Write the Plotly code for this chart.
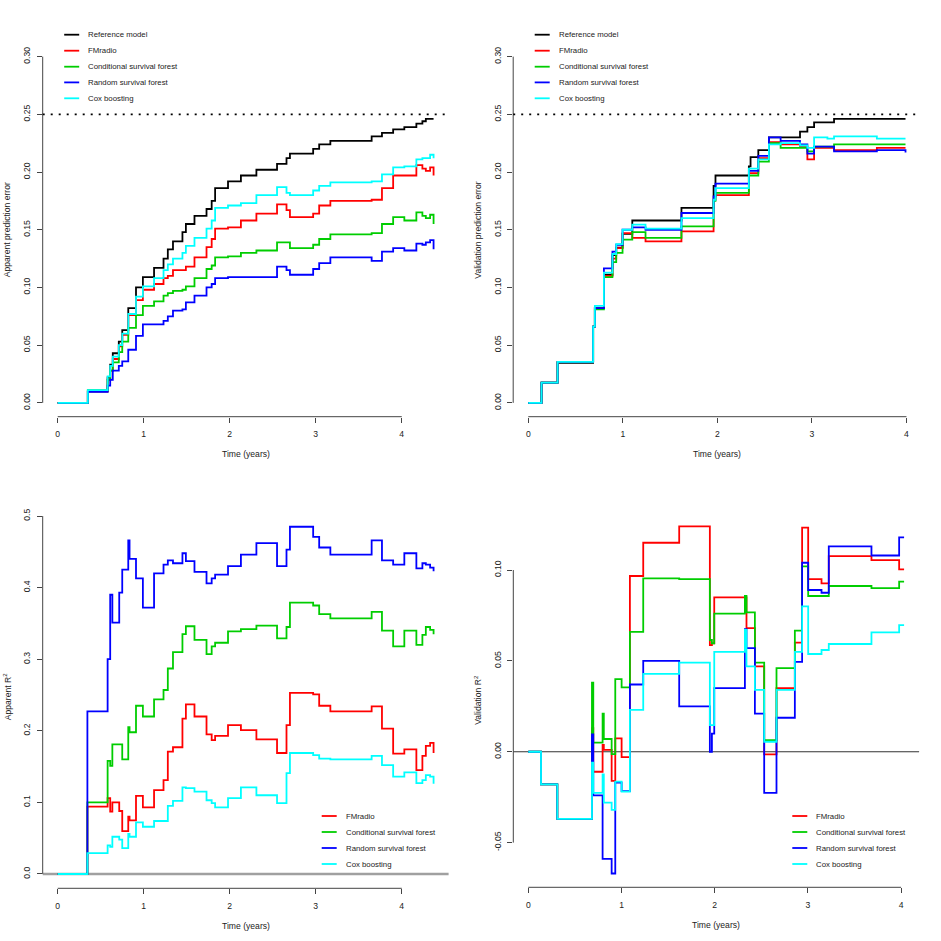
import plotly.graph_objects as go

W = H = 941
FONT = "Liberation Sans, Arial, Helvetica, sans-serif"

model_names = ["Reference model", "FMradio", "Conditional survival forest",
               "Random survival forest", "Cox boosting"]
model_colors = ["#000000", "#FF0000", "#00CD00", "#0000FF", "#00FFFF"]

# --- apparent prediction error (top left)
t_app_err = [0, 0.35, 0.58, 0.61, 0.64, 0.71, 0.75, 0.82, 0.91, 0.99, 1.12, 1.23, 1.28,
             1.34, 1.45, 1.49, 1.59, 1.73, 1.79, 1.83, 1.98, 2.13, 2.31, 2.55, 2.66, 2.70,
             2.97, 3.04, 3.17, 3.65, 3.77, 3.90, 4.03, 4.17, 4.24, 4.28, 4.33, 4.37]
app_err_ref = [0, 0.010, 0.022, 0.033, 0.043, 0.053, 0.063, 0.082, 0.100, 0.109, 0.117, 0.125,
               0.133, 0.140, 0.148, 0.155, 0.162, 0.168, 0.175, 0.186, 0.192, 0.197, 0.202,
               0.207, 0.212, 0.216, 0.220, 0.224, 0.227, 0.231, 0.234, 0.237, 0.239, 0.242,
               0.244, 0.246, 0.246, 0.246]
app_err_fmr = [0, 0.010, 0.020, 0.028, 0.038, 0.049, 0.059, 0.076, 0.089, 0.098, 0.103, 0.108,
               0.110, 0.115, 0.115, 0.118, 0.126, 0.135, 0.142, 0.151, 0.152, 0.158, 0.164,
               0.172, 0.167, 0.161, 0.164, 0.171, 0.175, 0.176, 0.186, 0.197, 0.197, 0.206,
               0.203, 0.201, 0.204, 0.197]
app_err_csf = [0, 0.011, 0.020, 0.028, 0.035, 0.044, 0.053, 0.065, 0.076, 0.084, 0.088, 0.093,
               0.095, 0.097, 0.098, 0.101, 0.108, 0.116, 0.119, 0.126, 0.127, 0.130, 0.132,
               0.139, 0.139, 0.134, 0.137, 0.142, 0.146, 0.147, 0.155, 0.161, 0.158, 0.165,
               0.162, 0.160, 0.163, 0.155]
app_err_rsf = [0, 0.0095, 0.015, 0.020, 0.028, 0.032, 0.036, 0.046, 0.058, 0.068, 0.068, 0.071,
               0.075, 0.080, 0.081, 0.087, 0.093, 0.100, 0.103, 0.108, 0.109, 0.109, 0.109,
               0.118, 0.115, 0.111, 0.116, 0.121, 0.126, 0.123, 0.131, 0.134, 0.132, 0.138,
               0.137, 0.139, 0.141, 0.133]
app_err_cox = [0, 0.011, 0.023, 0.032, 0.040, 0.050, 0.060, 0.077, 0.092, 0.101, 0.108, 0.115,
               0.120, 0.125, 0.130, 0.136, 0.143, 0.151, 0.158, 0.169, 0.171, 0.173, 0.180,
               0.187, 0.182, 0.180, 0.184, 0.188, 0.191, 0.192, 0.198, 0.204, 0.205, 0.211,
               0.212, 0.212, 0.215, 0.212]

# --- validation prediction error (top right)
t_val_err = [0, 0.14, 0.31, 0.686, 0.704, 0.80, 0.89, 0.93, 0.997, 1.10, 1.24, 1.62, 1.96,
             1.98, 2.333, 2.351, 2.433, 2.545, 2.669, 2.874, 2.952, 3.023, 3.164, 3.234,
             3.687, 3.99]
val_err_ref = [0, 0.0176, 0.0346, 0.066, 0.082, 0.111, 0.128, 0.1345, 0.1465, 0.158, 0.158,
               0.169, 0.188, 0.197, 0.205, 0.213, 0.219, 0.230, 0.230, 0.235, 0.239, 0.243,
               0.243, 0.246, 0.246, 0.246]
val_err_fmr = [0, 0.0176, 0.0355, 0.066, 0.082, 0.110, 0.125, 0.134, 0.147, 0.143, 0.140,
               0.1486, 0.176, 0.180, 0.199, 0.199, 0.212, 0.226, 0.224, 0.222, 0.211, 0.221,
               0.221, 0.219, 0.221, 0.221]
val_err_csf = [0, 0.0176, 0.0355, 0.066, 0.081, 0.109, 0.122, 0.130, 0.1415, 0.148, 0.143,
               0.153, 0.175, 0.182, 0.197, 0.197, 0.209, 0.225, 0.221, 0.221, 0.218, 0.222,
               0.222, 0.224, 0.224, 0.224]
val_err_rsf = [0, 0.0176, 0.0355, 0.066, 0.082, 0.1166, 0.131, 0.137, 0.150, 0.152, 0.150,
               0.1645, 0.179, 0.190, 0.201, 0.201, 0.214, 0.230, 0.227, 0.224, 0.216, 0.222,
               0.222, 0.218, 0.219, 0.217]
val_err_cox = [0, 0.0176, 0.0355, 0.066, 0.084, 0.1128, 0.129, 0.1375, 0.150, 0.1544, 0.151,
               0.160, 0.176, 0.186, 0.203, 0.203, 0.211, 0.224, 0.225, 0.223, 0.221, 0.230,
               0.229, 0.231, 0.229, 0.229]

# --- apparent R^2 (bottom left)
t_app_r2 = [0, 0.345, 0.58, 0.61, 0.635, 0.715, 0.75, 0.82, 0.835, 0.91, 0.99, 1.12, 1.23,
            1.28, 1.34, 1.45, 1.49, 1.59, 1.73, 1.79, 1.83, 1.98, 2.13, 2.31, 2.55, 2.66,
            2.70, 2.97, 3.04, 3.17, 3.65, 3.77, 3.90, 4.03, 4.17, 4.24, 4.28, 4.33, 4.37]
app_r2_fmr = [0, 0.094, 0.106, 0.087, 0.100, 0.088, 0.060, 0.080, 0.075, 0.109, 0.093, 0.117,
              0.131, 0.171, 0.177, 0.217, 0.237, 0.220, 0.195, 0.187, 0.193, 0.208, 0.201,
              0.188, 0.169, 0.208, 0.253, 0.251, 0.235, 0.227, 0.234, 0.203, 0.168, 0.174,
              0.145, 0.165, 0.179, 0.183, 0.169]
app_r2_csf = [0, 0.100, 0.158, 0.151, 0.181, 0.181, 0.160, 0.205, 0.198, 0.235, 0.220, 0.244,
              0.257, 0.287, 0.310, 0.335, 0.346, 0.327, 0.307, 0.318, 0.323, 0.339, 0.342,
              0.347, 0.329, 0.345, 0.379, 0.375, 0.363, 0.357, 0.366, 0.340, 0.318, 0.340,
              0.320, 0.334, 0.345, 0.341, 0.335]
app_r2_rsf = [0, 0.227, 0.300, 0.390, 0.351, 0.393, 0.425, 0.466, 0.440, 0.413, 0.372, 0.420,
              0.432, 0.438, 0.434, 0.448, 0.437, 0.422, 0.406, 0.413, 0.418, 0.430, 0.446,
              0.462, 0.430, 0.453, 0.485, 0.471, 0.456, 0.446, 0.466, 0.438, 0.432, 0.448,
              0.427, 0.434, 0.432, 0.428, 0.423]
app_r2_cox = [0, 0.029, 0.040, 0.038, 0.052, 0.048, 0.036, 0.056, 0.052, 0.072, 0.066, 0.074,
              0.074, 0.095, 0.102, 0.121, 0.120, 0.115, 0.103, 0.099, 0.093, 0.106, 0.121,
              0.110, 0.099, 0.141, 0.169, 0.166, 0.161, 0.160, 0.165, 0.152, 0.136, 0.142,
              0.127, 0.131, 0.138, 0.136, 0.126]

# --- validation R^2 (bottom right)
t_val_r2 = [0, 0.136, 0.311, 0.683, 0.697, 0.797, 0.81, 0.894, 0.933, 1.001, 1.09, 1.233,
            1.619, 1.948, 1.97, 1.995, 2.324, 2.341, 2.431, 2.531, 2.663, 2.86, 2.938, 3.003,
            3.146, 3.224, 3.682, 3.979, 4.032]
val_r2_fmr = [0, -0.018, -0.037, 0.013, -0.011, 0.0037, 0.001, -0.016, 0.0073, -0.003, 0.0967,
              0.115, 0.124, 0.0587, 0.0596, 0.085, 0.085, 0.068, 0.047, -0.0015, 0.035, 0.060,
              0.1233, 0.095, 0.0927, 0.1077, 0.1055, 0.1004, 0.1004]
val_r2_csf = [0, -0.018, -0.037, 0.038, 0.005, 0.021, 0.007, -0.0013, 0.040, 0.0354, 0.066,
              0.0954, 0.095, 0.0615, 0.0596, 0.076, 0.0857, 0.0767, 0.049, 0.0064, 0.046,
              0.0666, 0.102, 0.0857, 0.0857, 0.0912, 0.090, 0.0936, 0.0936]
val_r2_rsf = [0, -0.018, -0.037, 0.0095, -0.024, -0.059, -0.059, -0.067, -0.017, -0.0217, 0.037,
              0.050, 0.025, 0.0, 0.010, 0.035, 0.0675, 0.057, 0.021, -0.0226, 0.0187, 0.0495,
              0.104, 0.089, 0.0875, 0.113, 0.108, 0.118, 0.118]
val_r2_cox = [0, -0.018, -0.037, -0.006, -0.0226, -0.0125, -0.028, -0.032, -0.0165, -0.022,
              0.023, 0.0428, 0.049, 0.0147, 0.0147, 0.055, 0.067, 0.047, 0.034, 0.0055, 0.034,
              0.055, 0.080, 0.0538, 0.056, 0.0593, 0.0657, 0.0697, 0.0697]

x_ticks = [0, 1, 2, 3, 4]
err_ticks = [0, 0.05, 0.10, 0.15, 0.20, 0.25, 0.30]
err_labels = ["0.00", "0.05", "0.10", "0.15", "0.20", "0.25", "0.30"]
app_r2_ticks = [0, 0.1, 0.2, 0.3, 0.4, 0.5]
app_r2_labels = ["0.0", "0.1", "0.2", "0.3", "0.4", "0.5"]
val_r2_ticks = [-0.05, 0, 0.05, 0.10]
val_r2_labels = ["-0.05", "0.00", "0.05", "0.10"]


def px(x):
    return x / W


def py(y):
    return 1 - y / H


# panel boxes in pixels: left, right, top, bottom, xrange, yrange
panels = [
    dict(l=42.7, r=448.6, t=42.8, b=416.7, xr=[-0.1748, 4.5448], yr=[-0.012, 0.312],
         t_=t_app_err, ys=[app_err_ref, app_err_fmr, app_err_csf, app_err_rsf, app_err_cox],
         names=model_names, cols=model_colors, ticks=err_ticks, labels=err_labels,
         ylab="Apparent prediction error", ylab_y=230, leg="top"),
    dict(l=513.2, r=920.6, t=42.8, b=416.7, xr=[-0.1596, 4.1496], yr=[-0.012, 0.312],
         t_=t_val_err, ys=[val_err_ref, val_err_fmr, val_err_csf, val_err_rsf, val_err_cox],
         names=model_names, cols=model_colors, ticks=err_ticks, labels=err_labels,
         ylab="Validation prediction error", ylab_y=230, leg="top"),
    dict(l=42.7, r=448.6, t=501.7, b=888.3, xr=[-0.1748, 4.5448], yr=[-0.02, 0.52],
         t_=t_app_r2, ys=[app_r2_fmr, app_r2_csf, app_r2_rsf, app_r2_cox],
         names=model_names[1:], cols=model_colors[1:], ticks=app_r2_ticks, labels=app_r2_labels,
         ylab="Apparent R<sup>2</sup>", ylab_y=697, leg="bottom"),
    dict(l=513.3, r=919.1, t=512.6, b=887.3, xr=[-0.1612, 4.1932], yr=[-0.0746, 0.1316],
         t_=t_val_r2, ys=[val_r2_fmr, val_r2_csf, val_r2_rsf, val_r2_cox],
         names=model_names[1:], cols=model_colors[1:], ticks=val_r2_ticks, labels=val_r2_labels,
         ylab="Validation R<sup>2</sup>", ylab_y=700, leg="bottom"),
]

fig = go.Figure()
shapes = []
annotations = []
AXC = "#444444"

for i, p in enumerate(panels):
    k = "" if i == 0 else str(i + 1)
    xa, ya = "x" + k, "y" + k
    for name, col, yv in zip(p["names"], p["cols"], p["ys"]):
        fig.add_trace(go.Scatter(x=p["t_"], y=yv, mode="lines", name=name,
                                 line=dict(shape="hv", color=col, width=1.8),
                                 xaxis=xa, yaxis=ya, showlegend=False))
    fig.layout["xaxis" + k] = dict(
        domain=[px(p["l"]), px(p["r"])], range=p["xr"], anchor=ya, showgrid=False,
        zeroline=False, showline=False, ticks="outside", ticklen=5, tickwidth=1,
        tickcolor=AXC, tickvals=x_ticks, ticklabelstandoff=4,
        tickfont=dict(family=FONT, size=8.6, color="#222"))
    fig.layout["yaxis" + k] = dict(
        domain=[py(p["b"]), py(p["t"])], range=p["yr"], anchor=xa, showgrid=False,
        zeroline=False, showline=False, ticks="outside", ticklen=5, tickwidth=1,
        tickcolor=AXC, tickvals=p["ticks"], ticktext=p["labels"], tickangle=-90,
        ticklabelstandoff=3, tickfont=dict(family=FONT, size=8.6, color="#222"))
    # R style axis lines only spanning the tick range
    shapes.append(dict(type="line", xref=xa, yref=ya + " domain", x0=x_ticks[0], x1=x_ticks[-1],
                       y0=0, y1=0, line=dict(color=AXC, width=1)))
    shapes.append(dict(type="line", xref=xa + " domain", yref=ya, x0=0, x1=0,
                       y0=p["ticks"][0], y1=p["ticks"][-1], line=dict(color=AXC, width=1)))
    annotations.append(dict(x=px((p["l"] + p["r"]) / 2), y=py(p["b"] + 37.5), xref="paper",
                            yref="paper", text="Time (years)", showarrow=False, xanchor="center",
                            yanchor="middle", font=dict(family=FONT, size=8.6, color="#222")))
    annotations.append(dict(x=px(p["l"] - 35.5), y=py(p["ylab_y"]), xref="paper", yref="paper",
                            text=p["ylab"], showarrow=False, textangle=-90, xanchor="center",
                            yanchor="middle", font=dict(family=FONT, size=8.6, color="#222")))
    # legend
    if p["leg"] == "top":
        lx0, rows = p["l"] + 21.5, [34.7, 50.7, 66.7, 82.4, 98.3]
    else:
        lx0, rows = p["l"] + 279, [816, 832, 848, 864]
    for name, col, ry in zip(p["names"], p["cols"], rows):
        shapes.append(dict(type="line", xref="paper", yref="paper", x0=px(lx0), x1=px(lx0 + 15),
                           y0=py(ry), y1=py(ry), line=dict(color=col, width=1.8)))
        annotations.append(dict(x=px(lx0 + 22), y=py(ry), xref="paper", yref="paper", text=name,
                                showarrow=False, xanchor="left", yanchor="middle",
                                font=dict(family=FONT, size=7.8, color="#222")))

# reference lines
for k in ["", "2"]:
    shapes.append(dict(type="line", xref="x" + k + " domain", yref="y" + k, x0=0, x1=1,
                       y0=0.25, y1=0.25, line=dict(color="black", width=1.6, dash="2px,6px")))
shapes.append(dict(type="line", xref="x3 domain", yref="y3", x0=0, x1=1, y0=0, y1=0,
                   line=dict(color="#A0A0A0", width=2.5), layer="below"))
shapes.append(dict(type="line", xref="x4 domain", yref="y4", x0=0, x1=1, y0=0, y1=0,
                   line=dict(color="#333333", width=1.2), layer="below"))

fig.update_layout(width=W, height=H, margin=dict(l=0, r=0, t=0, b=0),
                  paper_bgcolor="white", plot_bgcolor="white",
                  shapes=shapes, annotations=annotations, showlegend=False)

# the page body has a default 8px margin; remove it so the figure sits at the window corner
fig.write_html("out.html", config={"displayModeBar": False},
               post_script="document.body.style.margin='0';")
